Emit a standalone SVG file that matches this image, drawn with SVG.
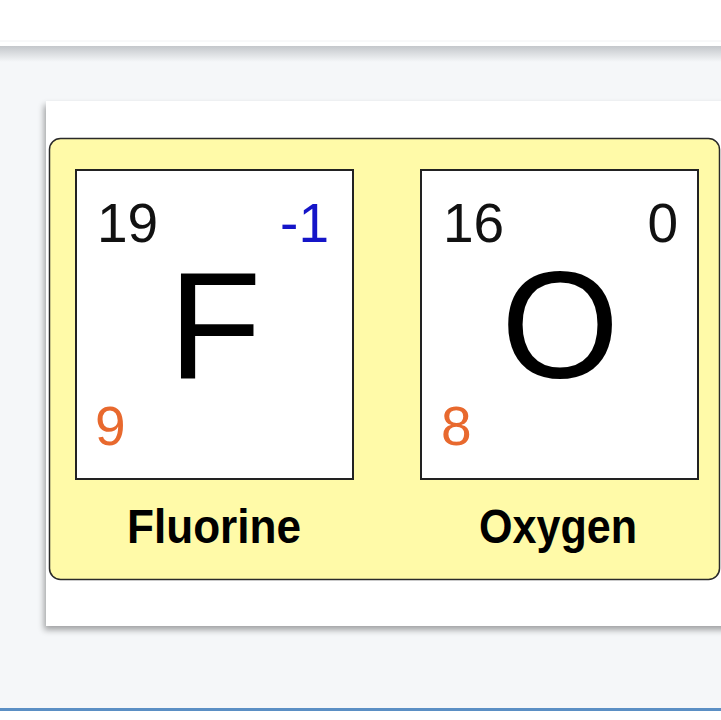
<svg xmlns="http://www.w3.org/2000/svg" width="721" height="720" viewBox="0 0 721 720">
  <defs>
    <filter id="cardShadow" x="-10%" y="-10%" width="130%" height="130%">
      <feGaussianBlur in="SourceAlpha" stdDeviation="3"/>
      <feOffset dx="-2" dy="4" result="b"/>
      <feComponentTransfer><feFuncA type="linear" slope="0.35"/></feComponentTransfer>
      <feMerge><feMergeNode/><feMergeNode in="SourceGraphic"/></feMerge>
    </filter>
    <linearGradient id="topShadow" x1="0" y1="0" x2="0" y2="1">
      <stop offset="0" stop-color="#c4c7cb"/>
      <stop offset="1" stop-color="#f5f7f9"/>
    </linearGradient>
  </defs>
  <style>
    .num { font-family: "Liberation Sans", Arial, sans-serif; font-size: 55px; }
    .sym { font-family: "Liberation Sans", Arial, sans-serif; font-size: 152px; fill: #000; }
    .name { font-family: "Liberation Sans", Arial, sans-serif; font-weight: bold; font-size: 49px; fill: #000; }
    .box { fill: #fff; stroke: #222; stroke-width: 2; }
    .orange { fill: #e8692e; }
  </style>
  <rect x="0" y="0" width="721" height="720" fill="#f5f7f9"/>
  <rect x="0" y="46" width="721" height="16" fill="url(#topShadow)"/>
  <rect x="0" y="0" width="721" height="46" fill="#fff"/>
  <line x1="0" y1="41" x2="721" y2="41" stroke="#f0f1f3" stroke-width="1"/>
  <rect x="0" y="708" width="721" height="3" fill="#5b8fc4"/>
  <rect x="0" y="711" width="721" height="9" fill="#fff"/>
  <rect x="46" y="101" width="690" height="525" fill="#fff" filter="url(#cardShadow)"/>
  <g id="panel">
    <rect x="49.5" y="138.5" width="670" height="441" rx="11" fill="#fffaa8" stroke="#2a2a2a" stroke-width="1.5"/>
  </g>
  <g id="fluorine">
    <rect class="box" x="76" y="170" width="277" height="309"/>
    <text class="num" x="97" y="242" fill="#111">19</text>
    <text class="num" x="329" y="242" fill="#1515c8" text-anchor="end">-1</text>
    <text class="sym" x="215" y="378" text-anchor="middle">F</text>
    <text class="num orange" x="95" y="445">9</text>
    <text class="name" x="214" y="543" text-anchor="middle" textLength="174" lengthAdjust="spacingAndGlyphs">Fluorine</text>
  </g>
  <g id="oxygen">
    <rect class="box" x="421" y="170" width="277" height="309"/>
    <text class="num" x="443" y="242" fill="#111">16</text>
    <text class="num" x="678" y="242" fill="#111" text-anchor="end">0</text>
    <text class="sym" x="560" y="378" text-anchor="middle">O</text>
    <text class="num orange" x="441" y="445">8</text>
    <text class="name" x="558" y="543" text-anchor="middle" textLength="158" lengthAdjust="spacingAndGlyphs">Oxygen</text>
  </g>
  <g id="connectors"/>
</svg>
